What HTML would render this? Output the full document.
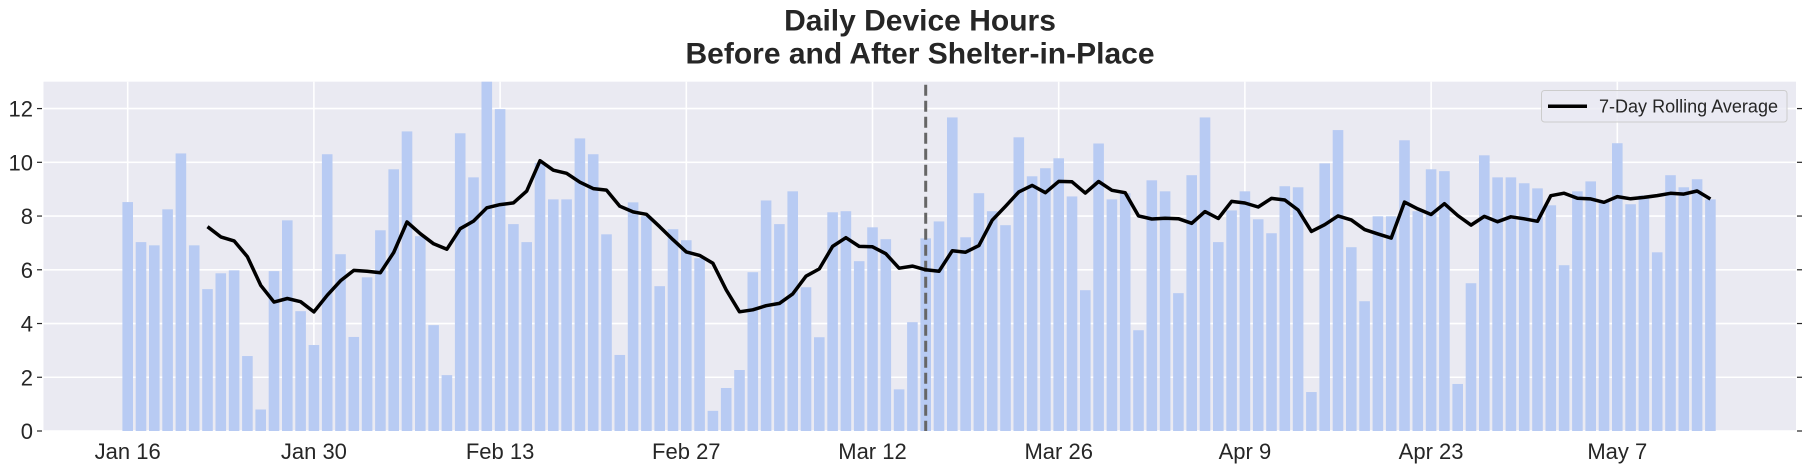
<!DOCTYPE html>
<html><head><meta charset="utf-8">
<style>
html,body{margin:0;padding:0;background:#fff;}
svg{display:block;font-family:"Liberation Sans",Arial,sans-serif;}
</style></head>
<body>
<svg id="chart" width="1808" height="469" viewBox="0 0 1808 469" xmlns="http://www.w3.org/2000/svg">
  <text x="920" y="30.5" text-anchor="middle" font-size="30" font-weight="bold" fill="#262626">Daily Device Hours</text>
  <text x="920" y="63.5" text-anchor="middle" font-size="30" font-weight="bold" fill="#262626">Before and After Shelter-in-Place</text>
  <rect x="43.5" y="81.7" width="1752.5" height="349.3" fill="#eaeaf2"/>
  <g id="grid"></g>
  <g id="bars"></g>
  <g id="marks"></g>
  <g id="axes"></g>
  <g id="legend">
    <rect x="1541.5" y="90.5" width="245.5" height="31.5" rx="3" fill="#eaeaf2" fill-opacity="0.8" stroke="#cccccc" stroke-width="1"/>
    <line x1="1548" y1="106.3" x2="1587" y2="106.3" stroke="#000" stroke-width="3.5"/>
    <text x="1599" y="112.5" font-size="18" textLength="179" lengthAdjust="spacingAndGlyphs" fill="#262626">7-Day Rolling Average</text>
  </g>
</svg>
<script>
const values = [8.52,7.03,6.91,8.25,10.33,6.91,5.28,5.87,5.98,2.79,0.8,5.95,7.84,4.46,3.2,10.3,6.58,3.5,5.72,7.47,9.74,11.15,7.25,3.94,2.08,11.08,9.44,13.2,11.98,7.7,7.03,9.98,8.62,8.62,10.89,10.3,7.32,2.83,8.51,7.99,5.39,7.51,7.1,6.43,0.75,1.6,2.27,5.91,8.58,7.7,8.92,5.35,3.49,8.14,8.18,6.32,7.58,7.14,1.55,4.05,7.17,7.8,11.67,7.21,8.85,8.18,7.66,10.93,9.48,9.78,10.15,8.73,5.24,10.7,8.62,8.85,3.75,9.33,8.92,5.13,9.52,11.67,7.03,8.21,8.92,7.88,7.36,9.11,9.07,1.45,9.96,11.2,6.84,4.83,7.99,7.99,10.82,8.18,9.74,9.67,1.75,5.5,10.26,9.44,9.44,9.22,9.03,8.40,6.17,8.92,9.29,8.55,10.71,8.44,8.77,6.65,9.52,9.07,9.37,8.62];
const rollingWindow = 7;
const xTickIdx = [0,14,28,42,56,70,84,98,112];
const xTickLabels = ["Jan 16","Jan 30","Feb 13","Feb 27","Mar 12","Mar 26","Apr 9","Apr 23","May 7"];
const yTicks = [0,2,4,6,8,10,12];
const shelterIdx = 60;

const NS="http://www.w3.org/2000/svg";
const X0=127.7, DX=13.3, PL=43.5, PR=1796, PT=81.7, PB=431;
const yMax=13.0;
function xs(i){return X0+i*DX;}
function ys(v){return PB-(Math.min(v,yMax))/yMax*(PB-PT);}
function mk(tag,attrs,parent){const e=document.createElementNS(NS,tag);for(const k in attrs)e.setAttribute(k,attrs[k]);parent.appendChild(e);return e;}

const grid=document.getElementById('grid'),bars=document.getElementById('bars'),marks=document.getElementById('marks'),axes=document.getElementById('axes');
yTicks.forEach(t=>{
  const y=ys(t);
  const g=mk('line',{x1:PL,x2:PR,y1:y,y2:y,stroke:'#fff','stroke-width':1.6},grid);
  
  
  const l=mk('text',{x:33,y:y+8,'text-anchor':'end','font-size':22,fill:'#262626'},axes);
  l.textContent=t;
  
  
  const tm=mk('line',{x1:37,x2:42,y1:y,y2:y,stroke:'#262626','stroke-width':1.2},axes);
  
  
  const tr=mk('line',{x1:1797,x2:1802,y1:y,y2:y,stroke:'#262626','stroke-width':1.2},axes);
  
  
});
xTickIdx.forEach((d,k)=>{
  const x=xs(d);
  const g=mk('line',{x1:x,x2:x,y1:PT,y2:PB,stroke:'#fff','stroke-width':1.6},grid);
  
  
  const l=mk('text',{x:x,y:459,'text-anchor':'middle','font-size':22,fill:'#262626'},axes);
  l.textContent=xTickLabels[k];
  
  
});
values.forEach((v,i)=>{
  const y=ys(v);
  const b=mk('rect',{x:xs(i)-5.3,y:y,width:10.6,height:PB-y,fill:'#b8cbf3'},bars);
  
  
});
// 7-day rolling average of the bar values
const pts=[];
for(let i=rollingWindow-1;i<values.length;i++){
  let s=0;for(let j=i-rollingWindow+1;j<=i;j++)s+=values[j];
  pts.push(xs(i).toFixed(1)+','+ys(s/rollingWindow).toFixed(1));
}
const sx=xs(shelterIdx);
const sl=mk('line',{x1:sx,x2:sx,y1:PT+3,y2:PB,stroke:'#666','stroke-width':3,'stroke-dasharray':'11,5'},marks);


const pl=mk('polyline',{points:pts.join(' '),fill:'none',stroke:'#000','stroke-width':3.5,'stroke-linejoin':'round'},marks);


</script>
</body></html>
